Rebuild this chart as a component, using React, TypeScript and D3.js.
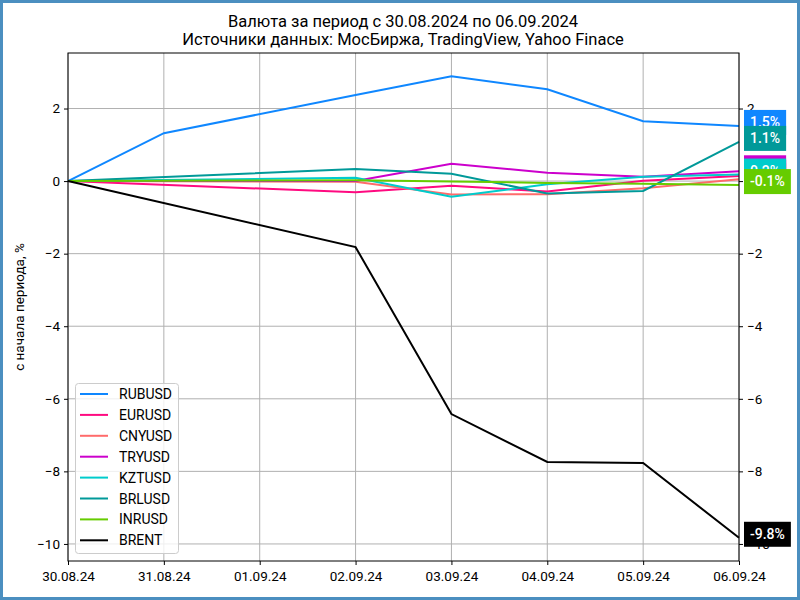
import React, { useRef, useEffect } from 'react';
import * as d3 from 'd3';

const dates = ['30.08.24', '31.08.24', '01.09.24', '02.09.24', '03.09.24', '04.09.24', '05.09.24', '06.09.24'];

const seriesNames = ['RUBUSD', 'EURUSD', 'CNYUSD', 'TRYUSD', 'KZTUSD', 'BRLUSD', 'INRUSD', 'BRENT'];
const seriesColors = ['#0f87ff', '#ff0a80', '#ff6b6b', '#cc00cc', '#00cccc', '#009999', '#66cc00', '#000000'];

const rub = [0, 1.32, null, 2.37, 2.89, 2.53, 1.65, 1.52];
const eur = [0, null, null, -0.31, -0.13, -0.29, 0.01, 0.14];
const cny = [0, null, null, -0.02, -0.37, -0.36, -0.2, 0.05];
const tryv = [0, null, null, 0.0, 0.48, 0.23, 0.12, 0.27];
const kzt = [0, null, null, 0.09, -0.43, -0.09, 0.12, 0.18];
const brl = [0, null, null, 0.33, 0.2, -0.34, -0.27, 1.08];
const inr = [0, null, null, 0.02, -0.01, -0.05, -0.07, -0.11];
const brent = [0, null, null, -1.82, -6.42, -7.74, -7.77, -9.83];

const yTicks = [2, 0, -2, -4, -6, -8, -10];

const App = () => {
  const ref = useRef<SVGSVGElement>(null);

  useEffect(() => {
    const width = 800, height = 600;
    const left = 68, right = 739, top = 53, bottom = 561;
    const font = 'Roboto, "DejaVu Sans", sans-serif';

    const svg = d3.select(ref.current)
      .attr('width', width)
      .attr('height', height);
    svg.selectAll('*').remove();

    const all = [rub, eur, cny, tryv, kzt, brl, inr, brent];

    const x = d3.scalePoint<string>().domain(dates).range([left, right]);
    const y = d3.scaleLinear().domain([-10.47, 3.53]).range([bottom, top]);

    svg.append('rect').attr('width', width).attr('height', height).attr('fill', 'white');

    // grid
    svg.append('g')
      .selectAll('line.vg')
      .data(dates)
      .enter()
      .append('line')
      .attr('x1', d => x(d)!).attr('x2', d => x(d)!)
      .attr('y1', top).attr('y2', bottom)
      .attr('stroke', '#b0b0b0').attr('stroke-width', 1);
    svg.append('g')
      .selectAll('line.hg')
      .data(yTicks)
      .enter()
      .append('line')
      .attr('x1', left).attr('x2', right)
      .attr('y1', d => y(d)).attr('y2', d => y(d))
      .attr('stroke', '#b0b0b0').attr('stroke-width', 1);

    // lines
    const line = d3.line<[string, number]>()
      .x(d => x(d[0])!)
      .y(d => y(d[1]));
    all.forEach((vals, i) => {
      const pts = vals
        .map((v, j) => [dates[j], v] as [string, number | null])
        .filter(p => p[1] !== null) as [string, number][];
      svg.append('path')
        .datum(pts)
        .attr('d', line)
        .attr('fill', 'none')
        .attr('stroke', seriesColors[i])
        .attr('stroke-width', 2);
    });

    // frame
    svg.append('rect')
      .attr('x', left).attr('y', top)
      .attr('width', right - left).attr('height', bottom - top)
      .attr('fill', 'none').attr('stroke', 'black').attr('stroke-width', 1);

    const fmt = (d: number) => String(d).replace('-', '\u2212');

    const gl = svg.append('g').attr('transform', `translate(${left},0)`)
      .call(d3.axisLeft(y).tickValues(yTicks).tickSize(4).tickPadding(4).tickFormat(d => fmt(+d)));
    const gr = svg.append('g').attr('transform', `translate(${right},0)`)
      .call(d3.axisRight(y).tickValues(yTicks).tickSize(4).tickPadding(4).tickFormat(d => fmt(+d)));
    const gb = svg.append('g').attr('transform', `translate(0,${bottom})`)
      .call(d3.axisBottom(x).tickSize(4).tickPadding(6));
    [gl, gr, gb].forEach(g => {
      g.select('.domain').remove();
      g.selectAll('text').attr('font-family', font).attr('font-size', 13.5).attr('fill', 'black');
      g.selectAll('line').attr('stroke', 'black');
    });

    // title
    svg.append('text')
      .attr('x', 403).attr('y', 27)
      .attr('text-anchor', 'middle')
      .attr('font-family', font).attr('font-size', 16.5)
      .text('Валюта за период с 30.08.2024 по 06.09.2024');
    svg.append('text')
      .attr('x', 403).attr('y', 45)
      .attr('text-anchor', 'middle')
      .attr('font-family', font).attr('font-size', 16.5)
      .text('Источники данных: МосБиржа, TradingView, Yahoo Finace');

    // y label
    svg.append('text')
      .attr('transform', `translate(24,${(top + bottom) / 2}) rotate(-90)`)
      .attr('text-anchor', 'middle')
      .attr('font-family', font).attr('font-size', 13.5)
      .text('с начала периода, %');

    // legend
    const lg = svg.append('g');
    lg.append('rect')
      .attr('x', 75.5).attr('y', 383.5)
      .attr('width', 103).attr('height', 170)
      .attr('rx', 3)
      .attr('fill', 'white').attr('fill-opacity', 0.8)
      .attr('stroke', '#cccccc');
    seriesNames.forEach((name, i) => {
      const ly = 394 + i * 20.9;
      lg.append('line')
        .attr('x1', 80).attr('x2', 108)
        .attr('y1', ly).attr('y2', ly)
        .attr('stroke', seriesColors[i]).attr('stroke-width', 2);
      lg.append('text')
        .attr('x', 119).attr('y', ly + 5)
        .attr('font-family', font).attr('font-size', 14)
        .text(name);
    });

    // end labels
    all.forEach((vals, i) => {
      const v = vals[vals.length - 1] as number;
      const yv = y(v);
      const g = svg.append('g');
      const r = g.append('rect');
      const t = g.append('text')
        .attr('x', 750).attr('y', yv + 1)
        .attr('font-family', font).attr('font-size', 14)
        .attr('font-weight', 500)
        .attr('fill', 'white')
        .text(v.toFixed(1) + '%');
      const w = (t.node() as SVGTextElement).getComputedTextLength();
      r.attr('x', 744).attr('y', yv - 16)
        .attr('width', w + 12).attr('height', 25)
        .attr('fill', seriesColors[i]);
    });

    // outer border
    svg.append('rect')
      .attr('x', 1.5).attr('y', 1.5)
      .attr('width', width - 3).attr('height', height - 3)
      .attr('fill', 'none')
      .attr('stroke', '#4b8fc0').attr('stroke-width', 3);
  }, []);

  return <svg ref={ref} style={{ position: 'absolute', left: 0, top: 0 }}></svg>;
};

export default App;
